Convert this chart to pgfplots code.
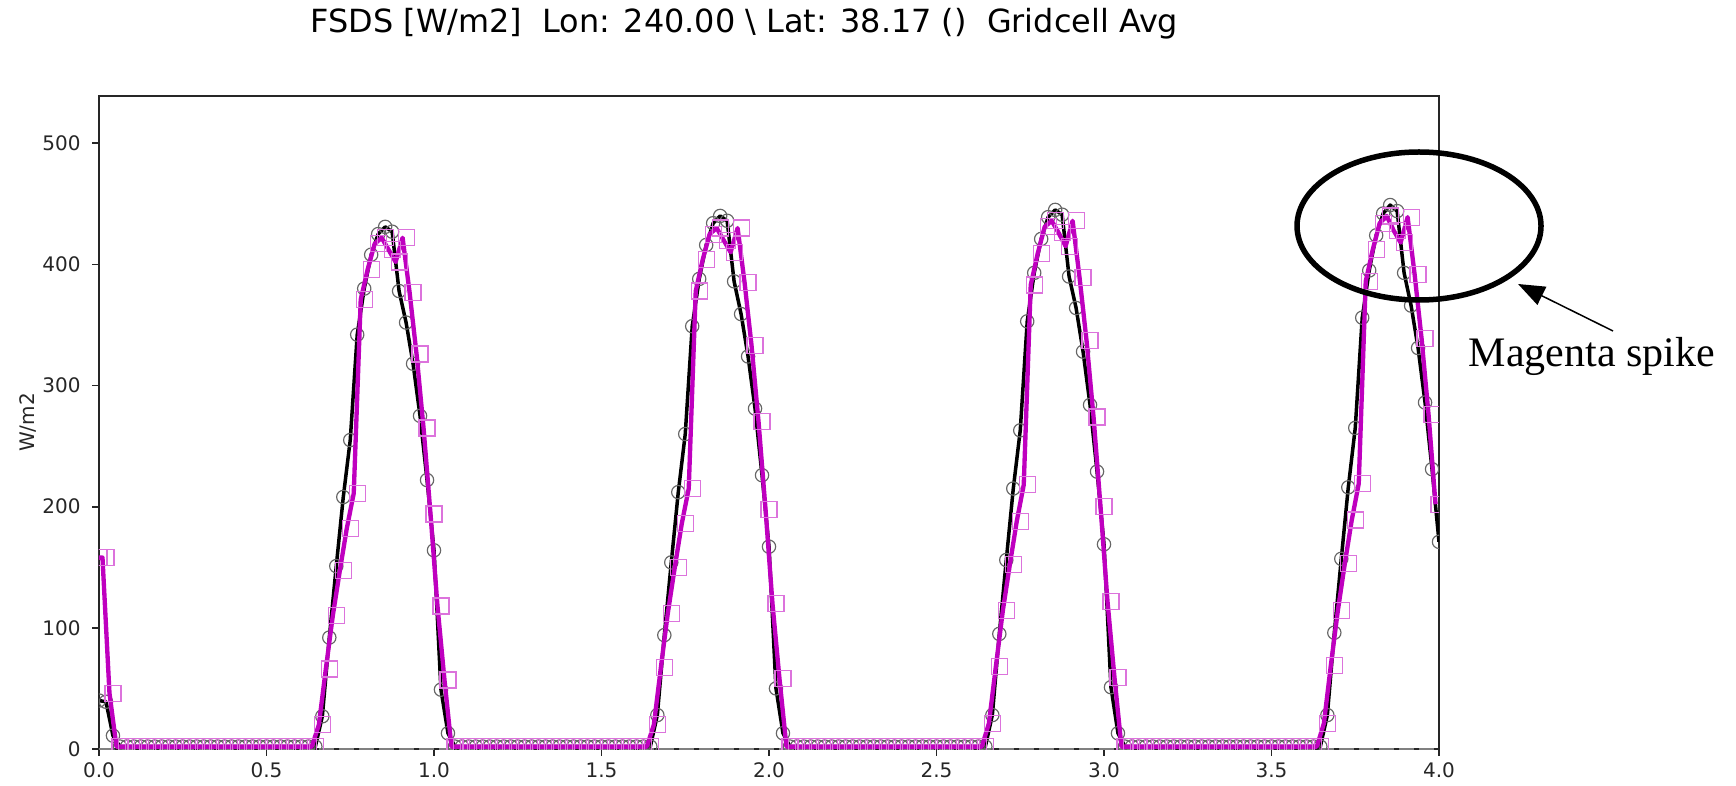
\documentclass[border=0pt]{standalone}
\usepackage{pgfplots}
\pgfplotsset{compat=1.18}
\usepackage{pgfplotstable}
\usepackage{fontspec}
\setmainfont{DejaVu Sans}
\newfontfamily\timesfont{Liberation Serif}
\usetikzlibrary{arrows.meta}

\definecolor{magLine}{RGB}{191,0,191}

% half-hourly FSDS, black = reference run, magenta = run with the spike
\pgfplotstableread[row sep=\\]{
t blk mag \\
0.0000 40 158 \\ 0.0208 39 158 \\ 0.0417 11 46 \\ 0.0625 2 2 \\
0.0833 2 2 \\ 0.1042 2 2 \\ 0.1250 2 2 \\ 0.1458 2 2 \\ 0.1667 2 2 \\ 0.1875 2 2 \\
0.2083 2 2 \\ 0.2292 2 2 \\ 0.2500 2 2 \\ 0.2708 2 2 \\ 0.2917 2 2 \\ 0.3125 2 2 \\
0.3333 2 2 \\ 0.3542 2 2 \\ 0.3750 2 2 \\ 0.3958 2 2 \\ 0.4167 2 2 \\ 0.4375 2 2 \\
0.4583 2 2 \\ 0.4792 2 2 \\ 0.5000 2 2 \\ 0.5208 2 2 \\ 0.5417 2 2 \\ 0.5625 2 2 \\
0.5833 2 2 \\ 0.6042 2 2 \\ 0.6250 2 2 \\ 0.6458 2 2 \\
0.6667 27 20 \\ 0.6875 92 66 \\ 0.7083 151 110 \\ 0.7292 208 147 \\ 0.7500 255 182 \\
0.7708 342 211 \\ 0.7917 380 371 \\ 0.8125 408 396 \\ 0.8333 425 417 \\ 0.8542 431 422 \\
0.8750 427 412 \\ 0.8958 378 402 \\ 0.9167 352 422 \\ 0.9375 318 377 \\ 0.9583 275 326 \\
0.9792 222 265 \\
1.0000 164 194 \\ 1.0208 49 118 \\ 1.0417 13 57 \\ 1.0625 2 2 \\
1.0833 2 2 \\ 1.1042 2 2 \\ 1.1250 2 2 \\ 1.1458 2 2 \\ 1.1667 2 2 \\ 1.1875 2 2 \\
1.2083 2 2 \\ 1.2292 2 2 \\ 1.2500 2 2 \\ 1.2708 2 2 \\ 1.2917 2 2 \\ 1.3125 2 2 \\
1.3333 2 2 \\ 1.3542 2 2 \\ 1.3750 2 2 \\ 1.3958 2 2 \\ 1.4167 2 2 \\ 1.4375 2 2 \\
1.4583 2 2 \\ 1.4792 2 2 \\ 1.5000 2 2 \\ 1.5208 2 2 \\ 1.5417 2 2 \\ 1.5625 2 2 \\
1.5833 2 2 \\ 1.6042 2 2 \\ 1.6250 2 2 \\ 1.6458 2 2 \\
1.6667 28 20 \\ 1.6875 94 67 \\ 1.7083 154 112 \\ 1.7292 212 150 \\ 1.7500 260 186 \\
1.7708 349 215 \\ 1.7917 388 378 \\ 1.8125 416 404 \\ 1.8333 434 425 \\ 1.8542 440 430 \\
1.8750 436 420 \\ 1.8958 386 410 \\ 1.9167 359 430 \\ 1.9375 324 385 \\ 1.9583 281 333 \\
1.9792 226 270 \\
2.0000 167 198 \\ 2.0208 50 120 \\ 2.0417 13 58 \\ 2.0625 2 2 \\
2.0833 2 2 \\ 2.1042 2 2 \\ 2.1250 2 2 \\ 2.1458 2 2 \\ 2.1667 2 2 \\ 2.1875 2 2 \\
2.2083 2 2 \\ 2.2292 2 2 \\ 2.2500 2 2 \\ 2.2708 2 2 \\ 2.2917 2 2 \\ 2.3125 2 2 \\
2.3333 2 2 \\ 2.3542 2 2 \\ 2.3750 2 2 \\ 2.3958 2 2 \\ 2.4167 2 2 \\ 2.4375 2 2 \\
2.4583 2 2 \\ 2.4792 2 2 \\ 2.5000 2 2 \\ 2.5208 2 2 \\ 2.5417 2 2 \\ 2.5625 2 2 \\
2.5833 2 2 \\ 2.6042 2 2 \\ 2.6250 2 2 \\ 2.6458 2 2 \\
2.6667 28 21 \\ 2.6875 95 68 \\ 2.7083 156 114 \\ 2.7292 215 152 \\ 2.7500 263 188 \\
2.7708 353 218 \\ 2.7917 393 383 \\ 2.8125 421 409 \\ 2.8333 439 431 \\ 2.8542 445 436 \\
2.8750 441 426 \\ 2.8958 390 415 \\ 2.9167 364 436 \\ 2.9375 328 389 \\ 2.9583 284 337 \\
2.9792 229 274 \\
3.0000 169 200 \\ 3.0208 51 122 \\ 3.0417 13 59 \\ 3.0625 2 2 \\
3.0833 2 2 \\ 3.1042 2 2 \\ 3.1250 2 2 \\ 3.1458 2 2 \\ 3.1667 2 2 \\ 3.1875 2 2 \\
3.2083 2 2 \\ 3.2292 2 2 \\ 3.2500 2 2 \\ 3.2708 2 2 \\ 3.2917 2 2 \\ 3.3125 2 2 \\
3.3333 2 2 \\ 3.3542 2 2 \\ 3.3750 2 2 \\ 3.3958 2 2 \\ 3.4167 2 2 \\ 3.4375 2 2 \\
3.4583 2 2 \\ 3.4792 2 2 \\ 3.5000 2 2 \\ 3.5208 2 2 \\ 3.5417 2 2 \\ 3.5625 2 2 \\
3.5833 2 2 \\ 3.6042 2 2 \\ 3.6250 2 2 \\ 3.6458 2 2 \\
3.6667 28 21 \\ 3.6875 96 69 \\ 3.7083 157 114 \\ 3.7292 216 153 \\ 3.7500 265 189 \\
3.7708 356 219 \\ 3.7917 395 386 \\ 3.8125 424 412 \\ 3.8333 442 434 \\ 3.8542 449 440 \\
3.8750 444 428 \\ 3.8958 393 418 \\ 3.9167 366 439 \\ 3.9375 331 392 \\ 3.9583 286 339 \\
3.9792 231 276 \\
4.0000 171 202 \\
}\fsds

\begin{document}
\begin{tikzpicture}
\useasboundingbox (-29.7pt,-10.8pt) rectangle (491.1pt,224.7pt);
\begin{axis}[
    at={(0pt,0pt)}, anchor=south west,
    scale only axis,
    width=402pt, height=195.9pt,
    xmin=0, xmax=4, ymin=0, ymax=539,
    xtick={0,0.5,1,1.5,2,2.5,3,3.5,4},
    xticklabels={0.0,0.5,1.0,1.5,2.0,2.5,3.0,3.5,4.0},
    ytick={0,100,200,300,400,500},
    tick pos=left, tick align=outside,
    major tick length=2pt,
    tick style={black!85, line width=0.5pt},
    axis line style={black!85, line width=0.5pt},
    ticklabel style={font=\fontsize{6}{7}\selectfont, text=black!85},
    xticklabel style={yshift=1.5pt},
    /pgf/number format/assume math mode=true,
    clip marker paths=true,
    ylabel={W/m2},
    ylabel style={at={(axis description cs:-0.0532,0.5)}, anchor=center,
        font=\fontsize{6}{7}\selectfont, text=black!85},
]
\addplot[gray, line width=0.6pt, dash pattern=on 4.5pt off 1.5pt] coordinates {(0,0) (4,0)};
\addplot[black, line width=1.05pt, line join=round, no marks] table[x=t, y=blk] {\fsds};
\addplot[only marks, mark=o, mark size=2pt,
    mark options={draw=black!60, line width=0.35pt}] table[x=t, y=blk] {\fsds};
\addplot[magLine, line width=1.3pt, line join=round, no marks]
    table[x expr=\thisrow{t}-0.0104, y=mag] {\fsds};
\addplot[only marks, mark=square, mark size=2.4pt,
    mark options={draw=magLine!55, line width=0.35pt}] table[x=t, y=mag] {\fsds};
\end{axis}
\node[anchor=base, font=\fontsize{9.57}{11}\selectfont] at (193.65pt,214.8pt)
    {FSDS [W/m2]\ \ Lon: 240.00 \textbackslash{} Lat: 38.17 ()\ \ Gridcell Avg};
% annotation
\draw[line width=1.65pt] (396pt,156.9pt) ellipse [x radius=36.6pt, y radius=22.2pt];
\draw[line width=0.45pt, -{Triangle[length=8pt,width=6pt]}] (454.2pt,125.4pt) -- (425.7pt,139.5pt);
\node[font=\timesfont\fontsize{12.6}{14}\selectfont] at (447.9pt,117.9pt) {Magenta spike};
\end{tikzpicture}
\end{document}
